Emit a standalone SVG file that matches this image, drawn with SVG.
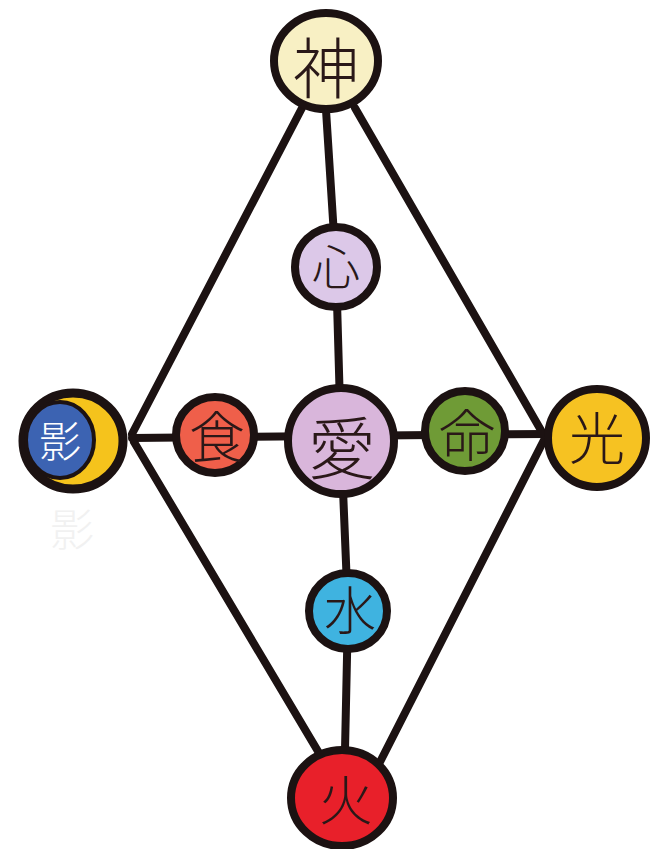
<svg xmlns="http://www.w3.org/2000/svg" width="663" height="849" viewBox="0 0 663 849">
<style>
.edge{stroke:#1c1212;stroke-width:8;stroke-linecap:round;fill:none}
.ring{stroke:#1c1212;stroke-width:8}
.lbl{font-family:"Noto Sans CJK JP","Noto Sans CJK SC",sans-serif;font-weight:300;text-anchor:middle;dominant-baseline:central;fill:#2a1818}
</style>
<rect width="663" height="849" fill="#ffffff"/>
<g id="connectors">
<line class="edge" x1="302" y1="108" x2="132" y2="434"/>
<line class="edge" x1="355" y1="108" x2="542" y2="432"/>
<line class="edge" x1="134" y1="442" x2="322" y2="758"/>
<line class="edge" x1="544" y1="440" x2="380" y2="762"/>
<line class="edge" x1="132" y1="438" x2="545" y2="434"/>
<polyline class="edge" points="326,110 336,267 341,441 348,611 345,750"/>
</g>
<g id="node-shen">
<ellipse class="ring" cx="326" cy="61" rx="52" ry="48" fill="#f8f0c4"/>
<text class="lbl" x="326" y="64" font-size="66">神</text>
</g>
<g id="node-xin">
<ellipse class="ring" cx="336" cy="267" rx="41" ry="40" fill="#dcc8e8"/>
<text class="lbl" x="336" y="264" font-size="48">心</text>
</g>
<g id="node-ai">
<circle class="ring" cx="341" cy="441" r="53" fill="#d9b6db"/>
<text class="lbl" x="342" y="444" font-size="68">愛</text>
</g>
<g id="node-shoku">
<ellipse class="ring" cx="215" cy="435" rx="39" ry="38" fill="#ef5f4a"/>
<text class="lbl" x="217" y="433" font-size="56">食</text>
</g>
<g id="node-mei">
<ellipse class="ring" cx="465" cy="431" rx="40" ry="40" fill="#6f9b36"/>
<text class="lbl" x="467" y="431" font-size="56">命</text>
</g>
<g id="node-hikari">
<circle class="ring" cx="597" cy="438" r="49" fill="#f6c222"/>
<text class="lbl" x="597" y="434" font-size="56">光</text>
</g>
<g id="node-kage">
<ellipse cx="73" cy="441" rx="50" ry="48" fill="#f5c31c" stroke="#1c1212" stroke-width="9"/>
<ellipse cx="60" cy="440" rx="34" ry="38" fill="#3c63b2" stroke="#1c1212" stroke-width="4"/>
<text class="lbl" x="60" y="438" font-size="42" style="fill:#ffffff">影</text>
<text class="lbl" x="72" y="527" font-size="44" style="fill:#f1f1f1">影</text>
</g>
<g id="node-mizu">
<ellipse class="ring" cx="348" cy="611" rx="39" ry="38" fill="#3fb3e0"/>
<text class="lbl" x="350" y="607" font-size="52">水</text>
</g>
<g id="node-hi">
<ellipse class="ring" cx="342" cy="798" rx="51" ry="48" fill="#e8202a"/>
<text class="lbl" x="346" y="797" font-size="54">火</text>
</g>
</svg>
